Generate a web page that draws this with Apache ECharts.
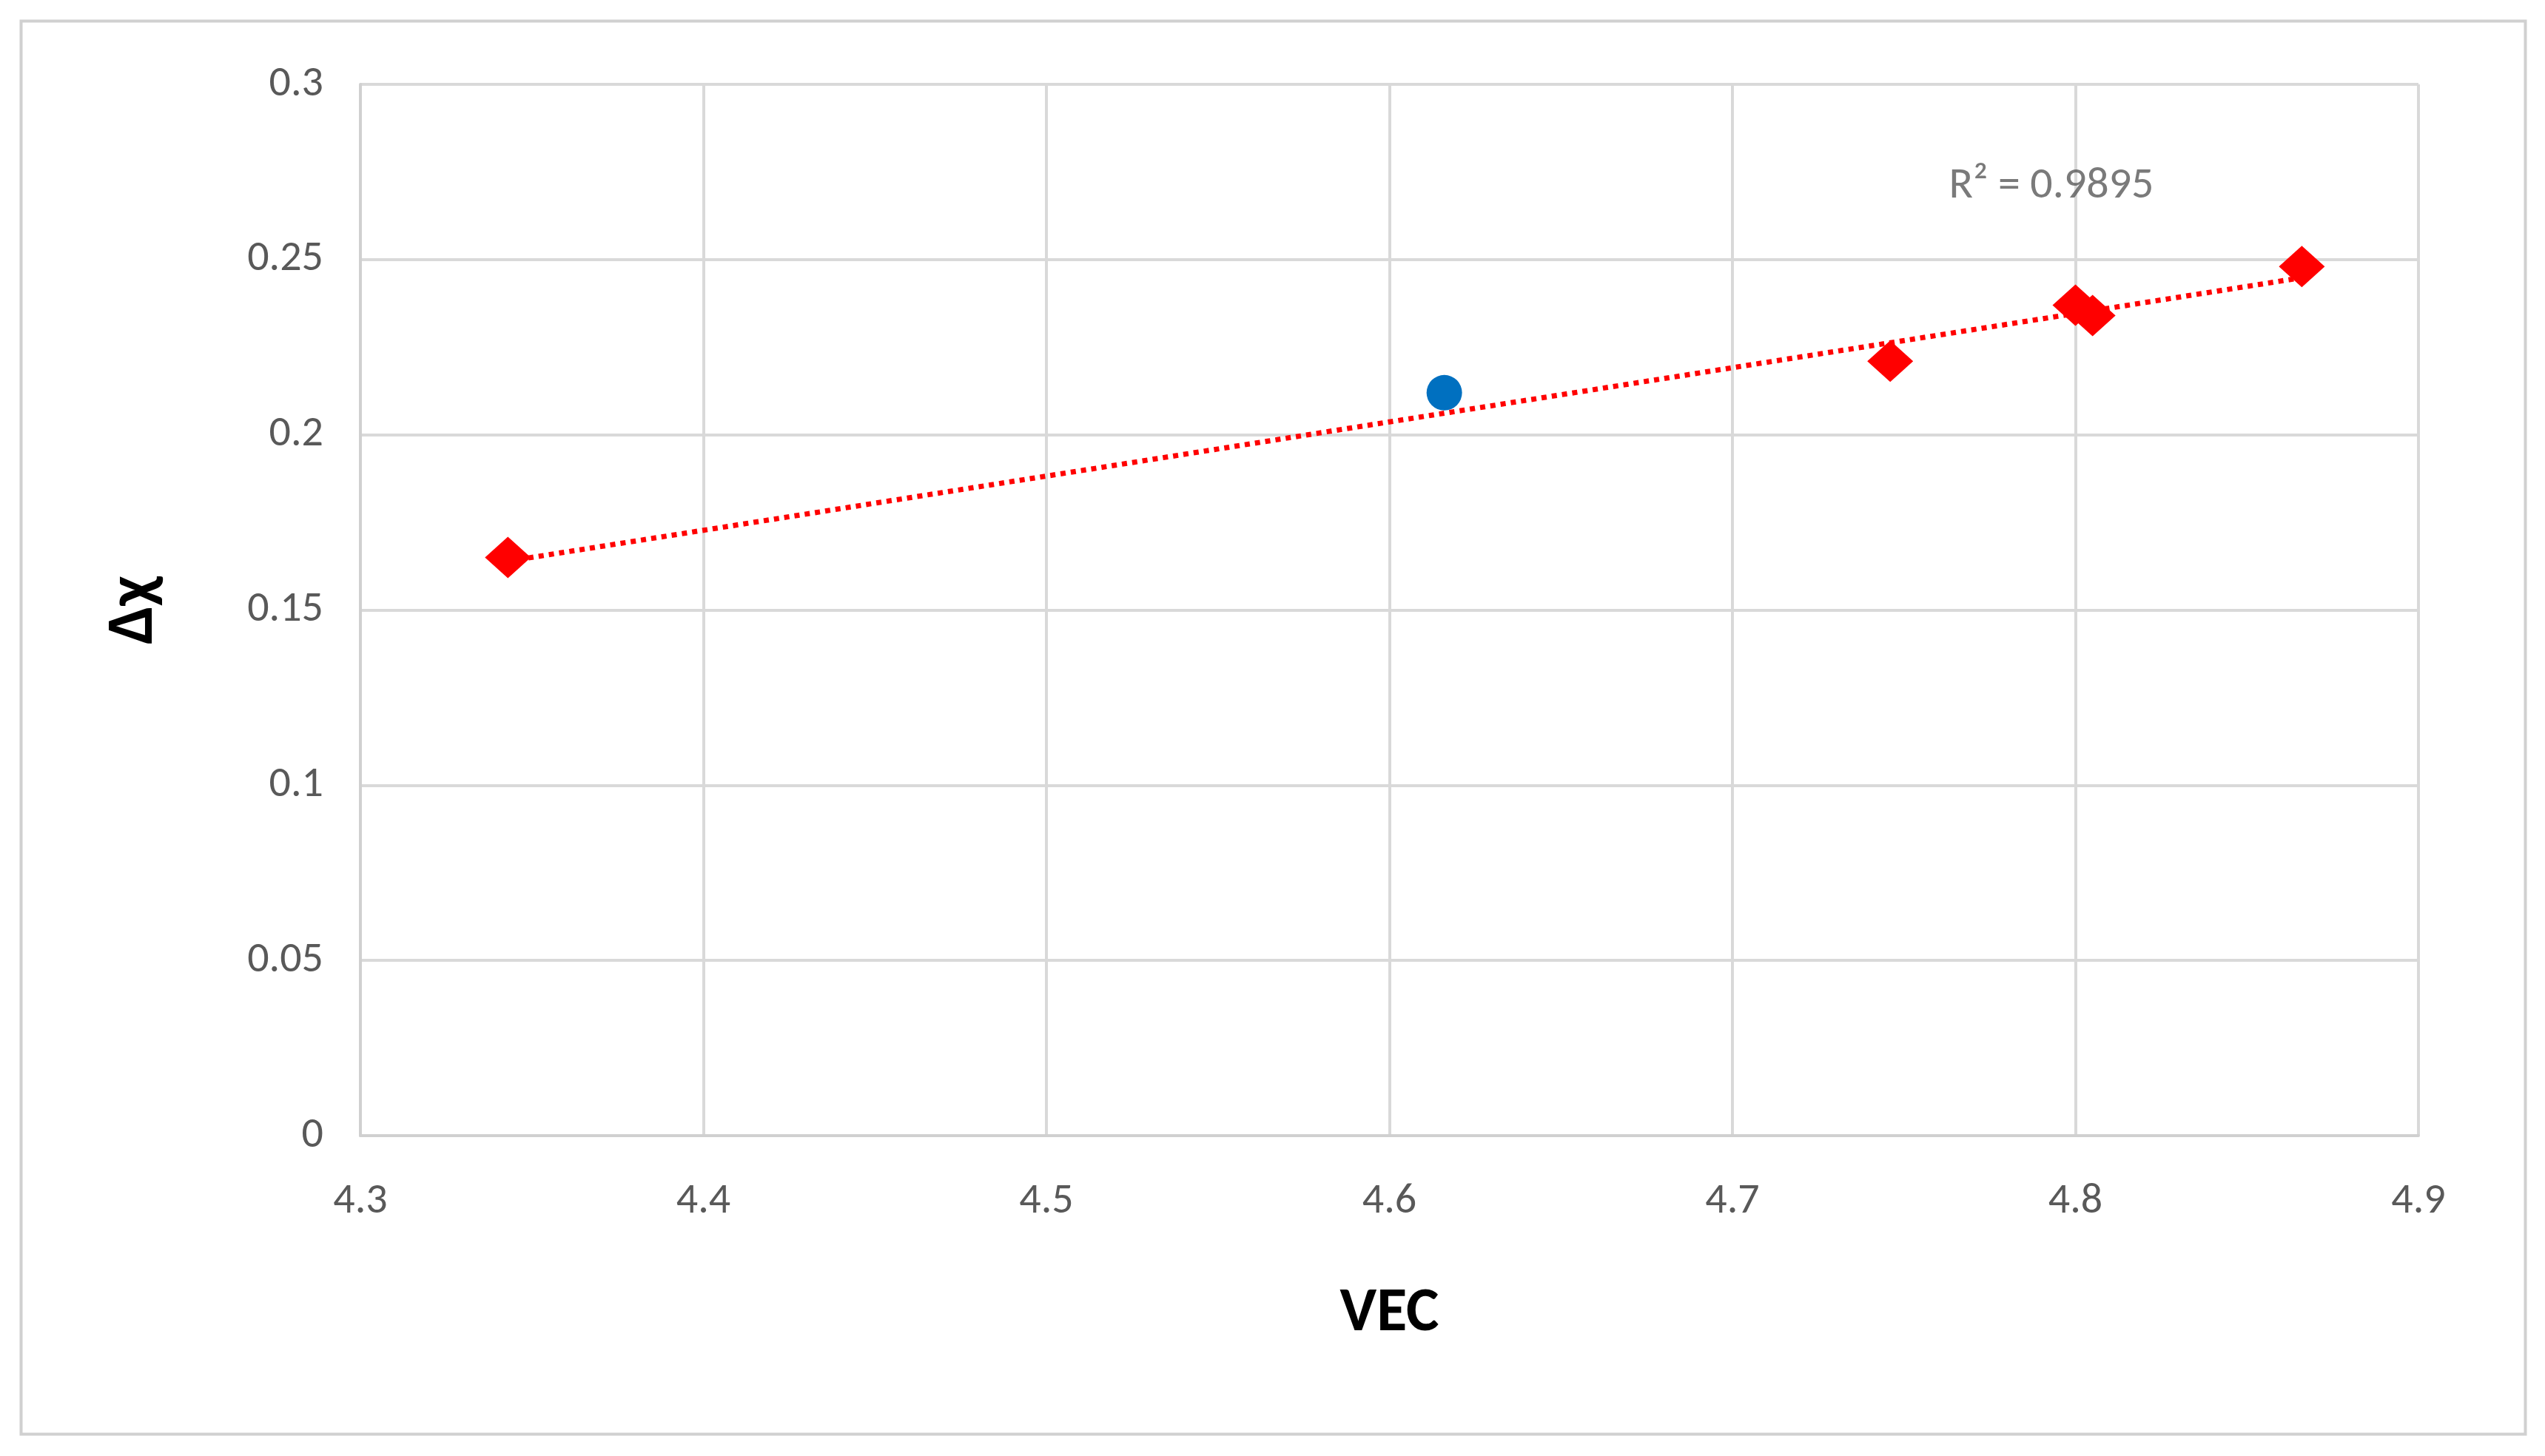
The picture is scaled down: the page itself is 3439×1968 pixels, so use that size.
<!DOCTYPE html>
<html><head><meta charset="utf-8">
<script src="https://cdn.jsdelivr.net/npm/echarts@6/dist/echarts.min.js"></script>
<style>html,body{margin:0;background:#fff}#chartDiv{width:3439px;height:1968px}</style>
</head><body><div id="chartDiv"></div>
<script>
var redVEC = [4.343, 4.746, 4.800, 4.805, 4.866];
var redChi = [0.165, 0.221, 0.237, 0.234, 0.248];
var blueVEC = [4.616];
var blueChi = [0.212];
var r2Text = 'R² = 0.9895';

// least squares trend line through the red points
function fit(xs, ys) {
    var n = xs.length, sx = 0, sy = 0, sxx = 0, sxy = 0;
    for (var i = 0; i < n; i++) {
        sx += xs[i]; sy += ys[i]; sxx += xs[i] * xs[i]; sxy += xs[i] * ys[i];
    }
    var b = (n * sxy - sx * sy) / (n * sxx - sx * sx);
    return {b: b, a: (sy - b * sx) / n};
}
var f = fit(redVEC, redChi);
var xMin = Math.min.apply(null, redVEC), xMax = Math.max.apply(null, redVEC);
var trend = [[xMin, f.a + f.b * xMin], [xMax, f.a + f.b * xMax]];

var myChart = echarts.init(document.getElementById('chartDiv'));
var font = 'Calibri, Carlito, "Open Sans", sans-serif';
myChart.setOption({
    backgroundColor: '#fff',
    graphic: [{
        type: 'rect', left: 26, top: 26,
        shape: {width: 3384, height: 1910},
        style: {fill: 'none', stroke: '#d0d0d0', lineWidth: 4}
    }],
    grid: {left: 487, right: 171, top: 114, bottom: 433},
    xAxis: {
        type: 'value', min: 4.3, max: 4.9, interval: 0.1,
        name: 'VEC', nameLocation: 'middle', nameGap: 200,
        nameTextStyle: {fontSize: 84, fontWeight: 'bold', color: '#000', fontFamily: font},
        axisLine: {lineStyle: {color: '#d0d0d0', width: 4}},
        axisTick: {show: false},
        axisLabel: {fontSize: 58, color: '#595959', margin: 60, fontFamily: font},
        splitLine: {lineStyle: {color: '#d9d9d9', width: 4}}
    },
    yAxis: {
        type: 'value', min: 0, max: 0.3, interval: 0.05,
        name: 'Δχ', nameLocation: 'middle', nameGap: 260,
        nameTextStyle: {fontSize: 90, fontWeight: 'bold', color: '#000', fontFamily: font},
        axisLine: {show: true, lineStyle: {color: '#d0d0d0', width: 4}},
        axisTick: {show: false},
        axisLabel: {fontSize: 58, color: '#595959', margin: 50, fontFamily: font},
        splitLine: {lineStyle: {color: '#d9d9d9', width: 4}}
    },
    series: [{
        type: 'line', data: trend, symbol: 'none', silent: true,
        lineStyle: {color: '#ff0000', width: 7, type: [7, 7]}
    }, {
        type: 'scatter', symbol: 'diamond', symbolSize: [62, 56],
        itemStyle: {color: '#ff0000', opacity: 1},
        data: redVEC.map(function (v, i) { return [v, redChi[i]]; })
    }, {
        type: 'scatter', symbol: 'circle', symbolSize: 48,
        itemStyle: {color: '#0070c0', opacity: 1},
        data: blueVEC.map(function (v, i) { return [v, blueChi[i]]; })
    }, {
        type: 'scatter', symbolSize: 0, silent: true,
        label: {show: true, formatter: r2Text, position: 'inside', fontSize: 60, color: '#595959', fontFamily: font},
        data: [[4.793, 0.2708]]
    }]
});
</script></body></html>
